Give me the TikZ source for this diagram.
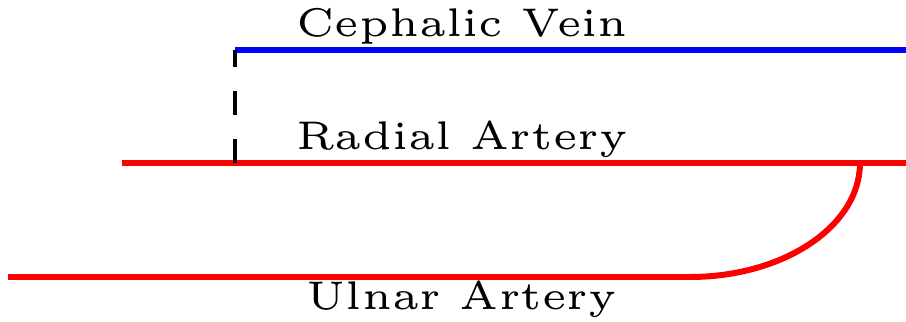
\documentclass[tikz,border=0pt]{standalone}
\begin{document}
\begin{tikzpicture}[x=0.125pt,y=-0.125pt,
  artery/.style={draw=red,line width=0.75pt},
  vein/.style={draw=blue,line width=0.75pt},
  link/.style={draw=black,line width=0.4pt,dashed},
  lbl/.style={font=\tiny,anchor=base,inner sep=0pt}]
\useasboundingbox (0,0) rectangle (906,322);
% coordinates
\coordinate (vL) at (235,50);
\coordinate (vR) at (906,50);
\coordinate (rL) at (122,163);
\coordinate (rJ) at (235,163);
\coordinate (rB) at (860,163);
\coordinate (rR) at (906,163);
\coordinate (uL) at (8,277);
\coordinate (uJ) at (690,277);
% lines
\draw[vein] (vL) -- (vR);
\draw[artery] (rL) -- (rR);
\draw[artery] (uL) -- (uJ);
\draw[artery] (rB) arc[start angle=0,end angle=90,x radius=170,y radius=114];
\draw[link] (rJ) -- (vL);
% labels
\node[lbl] (cv) at (462,36.7) {Cephalic Vein};
\node[lbl] (ra) at (462,149.5) {Radial Artery};
\node[lbl] (ua) at (462,309.5) {Ulnar Artery};
\end{tikzpicture}
\end{document}
